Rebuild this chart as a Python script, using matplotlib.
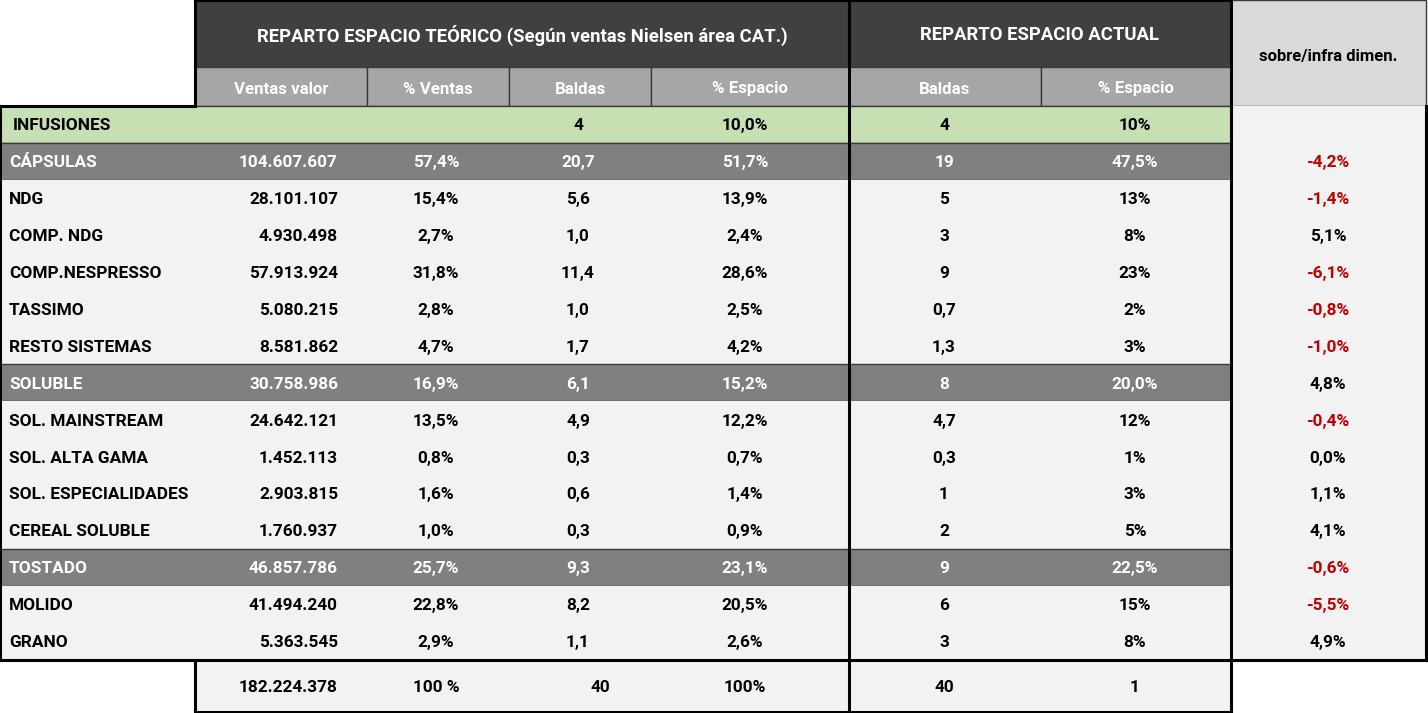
import matplotlib
matplotlib.use("Agg")
import matplotlib.pyplot as plt
from matplotlib.patches import Rectangle

# table contents
rows = ["INFUSIONES", "CÁPSULAS", "NDG", "COMP. NDG", "COMP.NESPRESSO", "TASSIMO",
        "RESTO SISTEMAS", "SOLUBLE", "SOL. MAINSTREAM", "SOL. ALTA GAMA",
        "SOL. ESPECIALIDADES", "CEREAL SOLUBLE", "TOSTADO", "MOLIDO", "GRANO"]
ventas = ["", "104.607.607", "28.101.107", "4.930.498", "57.913.924", "5.080.215",
          "8.581.862", "30.758.986", "24.642.121", "1.452.113", "2.903.815",
          "1.760.937", "46.857.786", "41.494.240", "5.363.545"]
pct_ventas = ["", "57,4%", "15,4%", "2,7%", "31,8%", "2,8%", "4,7%", "16,9%", "13,5%",
              "0,8%", "1,6%", "1,0%", "25,7%", "22,8%", "2,9%"]
baldas = ["4", "20,7", "5,6", "1,0", "11,4", "1,0", "1,7", "6,1", "4,9", "0,3", "0,6",
          "0,3", "9,3", "8,2", "1,1"]
pct_espacio = ["10,0%", "51,7%", "13,9%", "2,4%", "28,6%", "2,5%", "4,2%", "15,2%",
               "12,2%", "0,7%", "1,4%", "0,9%", "23,1%", "20,5%", "2,6%"]
act_baldas = ["4", "19", "5", "3", "9", "0,7", "1,3", "8", "4,7", "0,3", "1", "2", "9",
              "6", "3"]
act_pct = ["10%", "47,5%", "13%", "8%", "23%", "2%", "3%", "20,0%", "12%", "1%", "3%",
           "5%", "22,5%", "15%", "8%"]
sobre = ["", "-4,2%", "-1,4%", "5,1%", "-6,1%", "-0,8%", "-1,0%", "4,8%", "-0,4%",
         "0,0%", "1,1%", "4,1%", "-0,6%", "-5,5%", "4,9%"]
group_rows = ["CÁPSULAS", "SOLUBLE", "TOSTADO"]
totals = ["182.224.378", "100 %", "40", "100%", "40", "1"]

sub_headers = ["Ventas valor", "% Ventas", "Baldas", "% Espacio", "Baldas", "% Espacio"]
title_teorico = "REPARTO ESPACIO TEÓRICO (Según ventas Nielsen área CAT.)"
title_actual = "REPARTO ESPACIO ACTUAL"
title_sobre = "sobre/infra dimen."

FONT = ["Roboto", "DejaVu Sans"]
DARK = "#404040"
SUB = "#a6a6a6"
GREEN = "#c6e0b4"
GROUP = "#808080"
LIGHT = "#f2f2f2"
RED = "#c00000"

# column edges in pixels
xs = [0, 195, 367, 509, 651, 849, 1041, 1231, 1426]
y_head, y_sub, y_body = 0, 67, 106
row_h = 36.9
y_end = y_body + row_h * len(rows)
y_tot = 712

fig = plt.figure(figsize=(14.28, 7.13), dpi=100)
ax = fig.add_axes([0, 0, 1, 1])
ax.set_xlim(0, 1428)
ax.set_ylim(713, 0)
ax.axis("off")


def box(x0, y0, x1, y1, fc, ec="none", lw=0, z=1):
    ax.add_patch(Rectangle((x0, y0), x1 - x0, y1 - y0, facecolor=fc, edgecolor=ec,
                           linewidth=lw, zorder=z))


def txt(x, y, s, ha="center", color="black", size=12.4, weight="bold"):
    ax.text(x, y, s, ha=ha, va="center", color=color, fontsize=size,
            fontweight=weight, family=FONT, zorder=5)


# header
box(xs[1], y_head, xs[5], y_sub, DARK)
box(xs[5], y_head, xs[7], y_sub, DARK)
box(xs[7], y_head, xs[8], y_body, "#d9d9d9", ec="#3a3a3a", lw=1)
for i in range(6):
    box(xs[i + 1], y_sub, xs[i + 2], y_body, SUB, ec="#3a3a3a", lw=1)
txt((xs[1] + xs[5]) / 2, 35, title_teorico, color="white", size=13.3)
txt((xs[5] + xs[7]) / 2, 35, title_actual, color="white", size=13.3)
txt((xs[7] + xs[8]) / 2, 56, title_sobre, size=12)
for i, h in enumerate(sub_headers):
    txt((xs[i + 1] + xs[i + 2]) / 2, 89, h, color="white", size=12.2)

# body rows
for r, name in enumerate(rows):
    y0 = y_body + r * row_h
    yc = y0 + row_h / 2 + 1.5
    if r == 0:
        fc, col = GREEN, "black"
    elif name in group_rows:
        fc, col = GROUP, "white"
    else:
        fc, col = LIGHT, "black"
    ec = "#3a3a3a" if fc != LIGHT else "none"
    box(xs[0], y0, xs[7], y0 + row_h, fc, ec=ec, lw=1 if ec != "none" else 0)
    box(xs[7], y0, xs[8], y0 + row_h, LIGHT)
    txt(13 if r == 0 else 9, yc, name, ha="left", color=col)
    txt(338, yc, ventas[r], ha="right", color=col)
    txt(436, yc, pct_ventas[r], color=col)
    txt(578, yc, baldas[r], color=col)
    txt(745, yc, pct_espacio[r], color=col)
    txt(944, yc, act_baldas[r], color=col)
    txt(1135, yc, act_pct[r], color=col)
    scol = RED if sobre[r].startswith("-") else "black"
    txt(1328, yc, sobre[r], color=scol)

# totals row
box(xs[1], y_end, xs[7], y_tot, LIGHT)
tot_x = [338, 436, 600, 745, 944, 1135]
for i, t in enumerate(totals):
    txt(tot_x[i], (y_end + y_tot) / 2 + 1.5, t, ha="right" if i == 0 else "center")

# thick black borders
blk = dict(color="black", lw=2.2, zorder=6, solid_capstyle="projecting")
ax.plot([xs[1], xs[1]], [0, y_body], **blk)
ax.plot([0, xs[1]], [y_body, y_body], **blk)
ax.plot([0, 0], [y_body, y_end], **blk)
ax.plot([0, xs[7]], [y_end, y_end], **blk)
ax.plot([xs[5], xs[5]], [0, y_tot], **blk)
ax.plot([xs[7], xs[7]], [0, y_tot], **blk)
ax.plot([xs[8], xs[8]], [y_body, y_end], **blk)
ax.plot([xs[7], xs[8]], [y_end, y_end], **blk)
ax.plot([xs[1], xs[1]], [y_end, y_tot], **blk)
ax.plot([xs[1], xs[7]], [y_tot, y_tot], **blk)
ax.plot([xs[1], xs[7]], [0, 0], **blk)

fig.savefig("out.png", dpi=100)
